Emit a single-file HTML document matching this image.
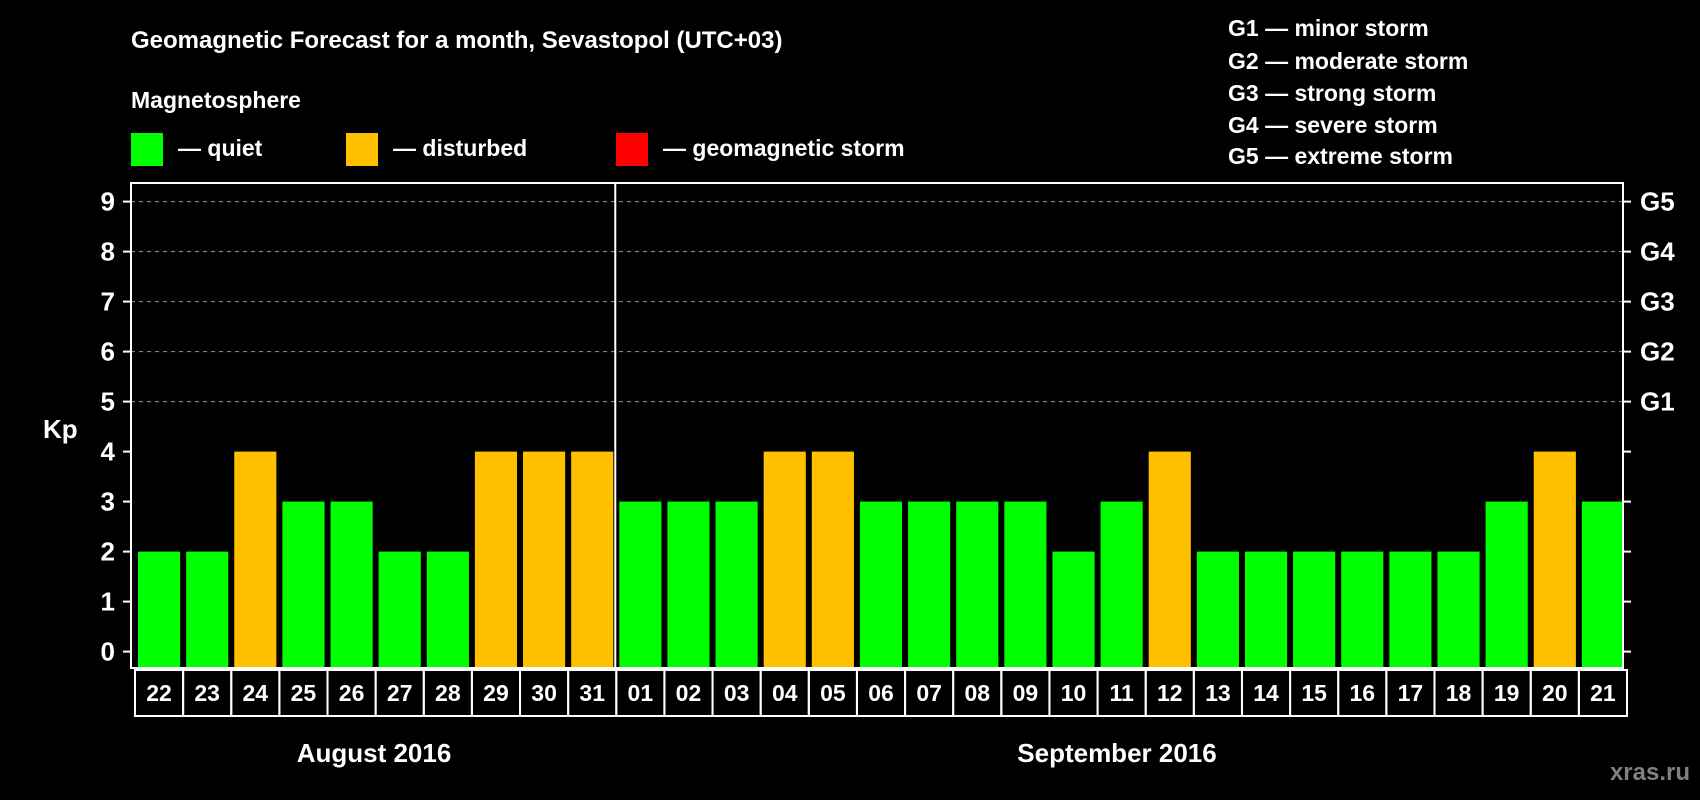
<!DOCTYPE html>
<html><head><meta charset="utf-8"><style>
body{margin:0;background:#000;width:1700px;height:800px;overflow:hidden}
svg{display:block;font-family:"Liberation Sans",Arial,sans-serif;font-weight:bold}
</style></head><body>
<svg id="c" width="1700" height="800">
<rect width="1700" height="800" fill="#000"/>
<text x="131" y="48" fill="#fff" font-size="24">Geomagnetic Forecast for a month, Sevastopol (UTC+03)</text>
<text x="131" y="108" fill="#fff" font-size="23">Magnetosphere</text>
<rect x="131" y="133" width="32" height="33" fill="#00ff00"/>
<text x="178" y="156" fill="#fff" font-size="23">— quiet</text>
<rect x="346" y="133" width="32" height="33" fill="#ffc000"/>
<text x="393" y="156" fill="#fff" font-size="23">— disturbed</text>
<rect x="616" y="133" width="32" height="33" fill="#ff0000"/>
<text x="663" y="156" fill="#fff" font-size="23">— geomagnetic storm</text>
<g fill="#fff" font-size="23">
<text x="1228" y="36">G1 — minor storm</text>
<text x="1228" y="69">G2 — moderate storm</text>
<text x="1228" y="101">G3 — strong storm</text>
<text x="1228" y="133">G4 — severe storm</text>
<text x="1228" y="164">G5 — extreme storm</text>
</g>
<text x="43" y="438" fill="#fff" font-size="26">Kp</text>
<text x="374" y="762" fill="#fff" font-size="26" text-anchor="middle">August 2016</text>
<text x="1117" y="762" fill="#fff" font-size="26" text-anchor="middle">September 2016</text>
<text x="1690" y="780" fill="#808080" font-size="24" text-anchor="end">xras.ru</text>
<g id="plot"></g>
</svg>
<script>
const days=["22","23","24","25","26","27","28","29","30","31","01","02","03","04","05","06","07","08","09","10","11","12","13","14","15","16","17","18","19","20","21"];
const kp=[2,2,4,3,3,2,2,4,4,4,3,3,3,4,4,3,3,3,3,2,3,4,2,2,2,2,2,2,3,4,3];
const yTicks=[0,1,2,3,4,5,6,7,8,9];
const gLabels=["G1","G2","G3","G4","G5"];
const gValues=[5,6,7,8,9];
const NS="http://www.w3.org/2000/svg";
const L=131,R=1623,T=183,B=668;
const slot=(R-L)/days.length;
const y=v=>651.6-50*v;
const x=i=>L+slot*i;
const g=document.getElementById('plot');
function mk(tag,a,txt){const e=document.createElementNS(NS,tag);for(const k in a)e.setAttribute(k,a[k]);if(txt!=null)e.textContent=txt;g.appendChild(e);return e;}
yTicks.forEach(v=>{
 if(v>=5){const gl=mk('line',{x1:L,x2:R,y1:y(v),y2:y(v),stroke:'#999','stroke-dasharray':'4,4','stroke-width':1});
 
 }
 const t1=mk('line',{x1:L-8,x2:L,y1:y(v),y2:y(v),stroke:'#fff','stroke-width':2});
 
 
 const t2=mk('line',{x1:R,x2:R+8,y1:y(v),y2:y(v),stroke:'#fff','stroke-width':2});
 
 
 const lb=mk('text',{x:115,y:y(v)+9,fill:'#fff','font-size':26,'text-anchor':'end'},String(v));
 
 
});
gLabels.forEach((s,i)=>{
 const t=mk('text',{x:1640,y:y(gValues[i])+9,fill:'#fff','font-size':26},s);
 
 
});
days.forEach((d,i)=>{
 const v=kp[i];
 const b=mk('rect',{x:x(i)+7,y:y(v),width:slot-6,height:B-y(v),fill:v>=5?'#ff0000':(v>=4?'#ffc000':'#00ff00')});
 
 
 const bx=mk('rect',{x:x(i)+4,y:B+2,width:slot,height:46,fill:'none',stroke:'#fff','stroke-width':2});
 
 
 const t=mk('text',{x:x(i)+4+slot/2,y:B+33,fill:'#fff','font-size':23,'text-anchor':'middle'},d);
 
 
});
const fr=mk('rect',{x:L,y:T,width:R-L,height:B-T,fill:'none',stroke:'#fff','stroke-width':2});


const sep=mk('line',{x1:x(10)+3,x2:x(10)+3,y1:T,y2:B,stroke:'#fff','stroke-width':2});


</script>
</body></html>
